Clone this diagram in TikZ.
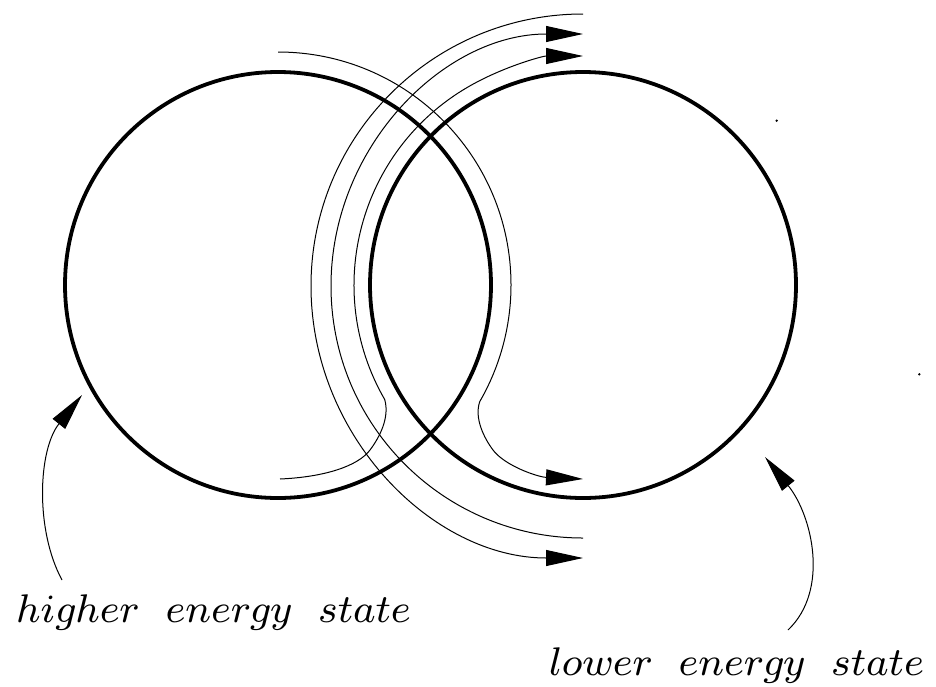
\documentclass[tikz,border=0pt]{standalone}
\usetikzlibrary{arrows.meta}
\font\lblfont=cmmi8 at 40pt
\begin{document}
\begin{tikzpicture}[x=1pt,y=-1pt,
  ring/.style={circle, draw, line width=3.8pt, minimum size=426pt, inner sep=0pt},
  flow/.style={line width=1pt},
  tipa/.style={-{Triangle[length=37pt,width=16pt]}},
  lbl/.style={anchor=base west, inner sep=0pt, font=\lblfont}
]
\useasboundingbox (0,0) rectangle (936,686);
\node[ring] (hi) at (278,285) {};
\node[ring] (lo) at (583,285) {};

% flow lines
\coordinate (aS) at (280,479);
\draw[flow,tipa] (aS) .. controls (325,477) and (358,466) .. (370,450)
  .. controls (379,438) and (390,418) .. (384.7,399.5)
  arc[start angle=150,end angle=270,radius=229];
\coordinate (dS) at (278,52);
\draw[flow,tipa] (dS) arc[start angle=270,end angle=390,radius=233]
  .. controls (474,418) and (484,438) .. (493,450)
  .. controls (505,466) and (538,477) .. (583,479);
\coordinate (bS) at (583,538);
\draw[flow,tipa] (bS) arc[start angle=90,end angle=270,radius=252];
\coordinate (cS) at (583,14);
\draw[flow,tipa] (cS) arc[start angle=270,end angle=90,radius=272];

% labels
\node[lbl] (hLabel) at (16,622) {higher\hspace{27pt}energy\hspace{27pt}state};
\node[lbl] (lLabel) at (549,675) {lower\hspace{27pt}energy\hspace{27pt}state};
\coordinate (hTail) at (62,580);
\coordinate (hTip) at (82,395);
\draw[flow,tipa] (hTail) .. controls (35,530) and (38,450) .. (hTip);
\coordinate (lTail) at (788,630);
\coordinate (lTip) at (765,457);
\draw[flow,tipa] (lTail) .. controls (830,590) and (812,515) .. (lTip);

% specks
\fill (776.7,120.7) circle[radius=1.3];
\fill (919.3,374.3) circle[radius=1.3];
\end{tikzpicture}
\end{document}
